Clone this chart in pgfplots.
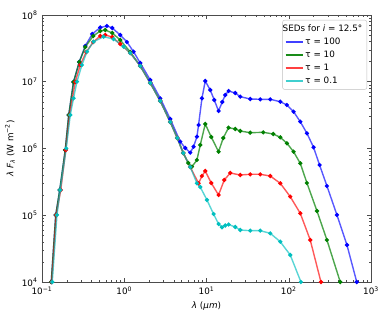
\documentclass[border=0pt]{standalone}
\usepackage{fontspec}
\setmainfont{DejaVu Sans}
\usepackage{pgfplots}
\pgfplotsset{compat=1.18}
\definecolor{mplb}{rgb}{0,0,1}
\definecolor{mplg}{rgb}{0,0.5,0}
\definecolor{mplr}{rgb}{1,0,0}
\definecolor{mplc}{rgb}{0,0.75,0.75}
\begin{document}
\begin{tikzpicture}
\useasboundingbox (-42pt,-34pt) rectangle (348pt,282pt);
\begin{axis}[
 at={(0,0)}, anchor=south west,
 scale only axis, width=329pt, height=267pt,
 xmode=log, ymode=log,
 xmin=0.1, xmax=1000, ymin=1e4, ymax=1e8,
 axis line style={black!70, line width=0.9pt},
 tick align=inside, major tick length=4pt, minor tick length=2pt,
 every tick/.style={black!70, line width=0.5pt},
 xtick={0.1,1,10,100,1000},
 xticklabels={10\textsuperscript{−1},10\textsuperscript{0},10\textsuperscript{1},10\textsuperscript{2},10\textsuperscript{3}},
 minor xtick={0.2,0.3,0.4,0.5,0.6,0.7,0.8,0.9,2,3,4,5,6,7,8,9,20,30,40,50,60,70,80,90,200,300,400,500,600,700,800,900},
 ytick={1e4,1e5,1e6,1e7,1e8},
 yticklabels={10\textsuperscript{4},10\textsuperscript{5},10\textsuperscript{6},10\textsuperscript{7},10\textsuperscript{8}},
 minor ytick={2e4,3e4,4e4,5e4,6e4,7e4,8e4,9e4,2e5,3e5,4e5,5e5,6e5,7e5,8e5,9e5,2e6,3e6,4e6,5e6,6e6,7e6,8e6,9e6,2e7,3e7,4e7,5e7,6e7,7e7,8e7,9e7},
 tick label style={font=\fontsize{8.8}{10}\selectfont},
 xticklabel style={yshift=-1pt},
 yticklabel style={xshift=-1pt},
 label style={font=\fontsize{8.8}{10}\selectfont},
 xlabel={\textit{λ} (\textit{μm})},
 ylabel={\textit{λ F}\textsubscript{\textit{λ}} (W m\textsuperscript{−2})},
 legend style={at={(1,1)}, anchor=north east, xshift=-4pt, yshift=-5pt, draw=black!25, rounded corners=2pt, font=\fontsize{8.8}{10}\selectfont, row sep=1pt, inner sep=2.5pt},
 legend cell align=left,
 every axis plot/.append style={line width=1.4pt, mark=*, mark size=1.3pt, mark options={solid, draw opacity=1, fill opacity=1}},
]
\addlegendimage{empty legend}
\addlegendentry{\hspace*{-0.8cm}SEDs for \textit{i} = 12.5°}
\addlegendimage{mplb!75, line width=1.3pt, no markers}
\addlegendentry{τ = 100}
\addlegendimage{mplg!90, line width=1.3pt, no markers}
\addlegendentry{τ = 10}
\addlegendimage{mplr!75, line width=1.3pt, no markers}
\addlegendentry{τ = 1}
\addlegendimage{mplc!75, line width=1.3pt, no markers}
\addlegendentry{τ = 0.1}

\addplot[mplb, draw opacity=0.65, forget plot] coordinates {
(0.1296,1e4)(0.1470,1.009e5)(0.1643,2.389e5)(0.1918,9.495e5)(0.2114,3.177e6)(0.2417,9.915e6)(0.2837,1.977e7)(0.3355,3.433e7)(0.4083,5.192e7)(0.5107,6.496e7)(0.6162,6.843e7)(0.7146,6.385e7)(0.8940,5.017e7)(1.0785,3.940e7)(1.297,2.820e7)(1.565,1.910e7)(2.071,1.062e7)(2.740,5.650e6)(3.625,2.767e6)(4.797,1.265e6)(5.515,1.017e6)(6.345,8.652e5)(6.960,1.064e6)(7.654,1.503e6)(8.004,2.250e6)(8.805,5.650e6)(9.656,1.026e7)(11.10,7.523e6)(12.43,5.328e6)(14.01,3.646e6)(15.54,4.972e6)(16.90,6.332e6)(18.54,7.268e6)(22.37,6.785e6)(25.72,5.970e6)(34.03,5.515e6)(45.03,5.458e6)(59.59,5.458e6)(78.84,5.024e6)(95.08,4.485e6)(114.4,3.559e6)(138.0,2.520e6)(166.4,1.689e6)(200.2,1.042e6)(236.9,5.658e5)(291.3,2.743e5)(385.5,1.009e5)(510.1,3.584e4)(670.9,1e4)
};
\addplot[mplg, draw opacity=0.7, forget plot] coordinates {
(0.1296,1e4)(0.1470,1.009e5)(0.1643,2.389e5)(0.1918,9.495e5)(0.2114,3.177e6)(0.2417,9.915e6)(0.2837,1.977e7)(0.3355,3.316e7)(0.4199,4.847e7)(0.5107,5.759e7)(0.5875,5.963e7)(0.7146,5.375e7)(0.8940,4.222e7)(1.183,2.791e7)(1.565,1.722e7)(2.071,9.578e6)(2.740,5.147e6)(3.625,2.495e6)(4.410,1.437e6)(5.215,8.563e5)(5.999,6.066e5)(6.654,5.338e5)(7.654,6.726e5)(8.395,1.128e6)(9.656,2.328e6)(11.42,1.487e6)(14.01,8.956e5)(15.98,1.437e6)(18.54,2.049e6)(22.37,1.960e6)(25.72,1.829e6)(34.03,1.724e6)(48.98,1.748e6)(64.81,1.649e6)(78.84,1.472e6)(95.08,1.197e6)(114.4,8.956e5)(138.0,6.003e5)(166.4,3.042e5)(220.3,1.158e5)(291.3,4.257e4)(422.8,1e4)
};
\addplot[mplr, draw opacity=0.65, forget plot] coordinates {
(0.1314,1e4)(0.1491,1.009e5)(0.1690,2.389e5)(0.1945,9.495e5)(0.2163,3.177e6)(0.2536,9.915e6)(0.2918,1.782e7)(0.3451,2.791e7)(0.4199,3.940e7)(0.5107,4.847e7)(0.5875,5.017e7)(0.7146,4.680e7)(0.8940,3.677e7)(1.183,2.696e7)(1.565,1.722e7)(2.071,9.578e6)(2.740,5.147e6)(3.625,2.495e6)(4.410,1.437e6)(5.215,8.563e5)(6.345,5.283e5)(8.004,3.011e5)(8.805,3.873e5)(9.656,4.603e5)(11.42,3.042e5)(14.01,2.011e5)(16.44,3.374e5)(19.45,4.296e5)(25.72,4.009e5)(34.03,4.107e5)(45.03,4.107e5)(59.59,3.873e5)(78.84,3.011e5)(104.3,1.897e5)(138.0,1.070e5)(182.5,4.257e4)(246.4,1e4)
};
\addplot[mplc, draw opacity=0.65, forget plot] coordinates {
(0.1332,1e4)(0.1520,1.009e5)(0.1667,2.389e5)(0.1972,1.007e6)(0.2206,3.177e6)(0.2417,5.650e6)(0.2660,1.002e7)(0.3059,1.782e7)(0.3519,2.820e7)(0.4234,3.981e7)(0.5602,4.728e7)(0.7412,4.368e7)(0.9806,3.351e7)(1.183,2.696e7)(1.565,1.722e7)(2.071,9.578e6)(2.740,5.147e6)(3.625,2.495e6)(4.410,1.437e6)(5.215,8.563e5)(6.345,5.283e5)(7.654,3.011e5)(8.395,2.650e5)(10.13,1.693e5)(12.18,1.044e5)(14.01,7.395e4)(15.41,6.600e4)(16.90,7.021e4)(18.54,7.268e4)(22.37,6.668e4)(25.72,6.012e4)(34.03,5.869e4)(45.03,5.869e4)(59.59,5.365e4)(78.84,4.015e4)(104.3,2.538e4)(140.7,1e4)
};
\end{axis}
\end{tikzpicture}
\end{document}
